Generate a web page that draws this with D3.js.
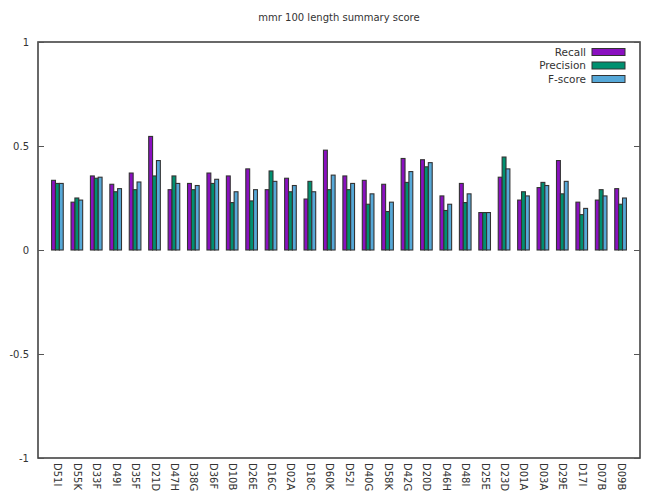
<!DOCTYPE html>
<html>
<head>
<meta charset="utf-8">
<script src="https://cdn.jsdelivr.net/npm/d3@7"></script>
<style>
  body { margin: 0; background: #fff; }
  text { font-family: "DejaVu Sans", sans-serif; fill: #333; }
</style>
</head>
<body>
<div id="chart"></div>
<script>
// chart data
var categories = ["D51I", "D55K", "D33F", "D49I", "D35F", "D21D", "D47H", "D38G", "D36F", "D10B",
    "D26E", "D16C", "D02A", "D18C", "D60K", "D52I", "D40G", "D58K", "D42G", "D20D",
    "D46H", "D48I", "D25E", "D23D", "D01A", "D03A", "D29E", "D17I", "D07B", "D09B"];
var recall = [0.335, 0.23, 0.356, 0.316, 0.37, 0.546, 0.29, 0.32, 0.37, 0.356,
    0.39, 0.29, 0.345, 0.245, 0.48, 0.356, 0.335, 0.316, 0.44, 0.434,
    0.26, 0.32, 0.18, 0.35, 0.24, 0.30, 0.43, 0.23, 0.24, 0.295];
var precision = [0.32, 0.25, 0.345, 0.28, 0.29, 0.356, 0.356, 0.29, 0.32, 0.228,
    0.236, 0.38, 0.28, 0.33, 0.29, 0.29, 0.22, 0.185, 0.325, 0.40,
    0.19, 0.228, 0.18, 0.447, 0.28, 0.325, 0.27, 0.17, 0.29, 0.22];
var fscore = [0.32, 0.24, 0.35, 0.295, 0.327, 0.43, 0.32, 0.31, 0.34, 0.28,
    0.29, 0.33, 0.31, 0.28, 0.36, 0.32, 0.27, 0.23, 0.377, 0.42,
    0.22, 0.27, 0.18, 0.39, 0.26, 0.31, 0.33, 0.20, 0.26, 0.25];
var seriesNames = ["Recall", "Precision", "F-score"];
var seriesColors = ["#8a10c0", "#009070", "#56a8d8"];
var yTicks = [-1, -0.5, 0, 0.5, 1];

var width = 657, height = 502;
var margin = { top: 42, right: 17, bottom: 44, left: 38 };
var innerW = width - margin.left - margin.right;
var innerH = height - margin.top - margin.bottom;

var svg = d3.select("#chart").append("svg")
    .attr("width", width)
    .attr("height", height);

var g = svg.append("g")
    .attr("transform", "translate(" + margin.left + "," + margin.top + ")");

// groups at 0..n-1, one empty slot at each side
var x = d3.scaleLinear()
    .domain([-1, categories.length])
    .range([0, innerW]);
var y = d3.scaleLinear()
    .domain([-1, 1])
    .range([innerH, 0]);

var step = x(1) - x(0);
var barW = step / 5;

var series = [recall, precision, fscore];

// bars
series.forEach(function(vals, s) {
    g.append("g")
        .selectAll("rect")
        .data(vals)
        .enter().append("rect")
        .attr("x", function(d, i) { return x(i) + (s - 1.5) * barW; })
        .attr("width", barW)
        .attr("y", function(d) { return y(Math.max(0, d)); })
        .attr("height", function(d) { return Math.abs(y(d) - y(0)); })
        .attr("fill", seriesColors[s])
        .attr("stroke", "#333")
        .attr("stroke-width", 1.1);
});

// frame
g.append("rect")
    .attr("width", innerW)
    .attr("height", innerH)
    .attr("fill", "none")
    .attr("stroke", "#444")
    .attr("stroke-width", 1.6);

// y axis ticks, mirrored on right
var yAxisL = d3.axisLeft(y).tickValues(yTicks).tickSize(-6).tickPadding(9)
    .tickFormat(function(d) { return String(d); });
var yl = g.append("g").call(yAxisL);
yl.select(".domain").remove();
yl.selectAll("line").attr("stroke", "#555");
yl.selectAll("text").style("font-size", "10px").attr("fill", "#333");

var yAxisR = d3.axisRight(y).tickValues(yTicks).tickSize(-6).tickFormat("");
var yr = g.append("g").attr("transform", "translate(" + innerW + ",0)").call(yAxisR);
yr.select(".domain").remove();
yr.selectAll("line").attr("stroke", "#555");

// x axis labels
var xAxis = d3.axisBottom(x)
    .tickValues(d3.range(categories.length))
    .tickSize(0)
    .tickFormat(function(i) { return categories[i]; });
var xa = g.append("g").attr("transform", "translate(0," + innerH + ")").call(xAxis);
xa.select(".domain").remove();
xa.selectAll("text")
    .style("font-size", "10px")
    .attr("fill", "#333")
    .attr("text-anchor", "start")
    .attr("transform", "rotate(90)")
    .attr("x", 5)
    .attr("y", 0)
    .attr("dy", "0.35em");

// title
svg.append("text")
    .attr("x", margin.left + innerW / 2)
    .attr("y", 21)
    .attr("text-anchor", "middle")
    .style("font-size", "10px")
    .text("mmr 100 length summary score");

// legend
var legend = g.append("g").attr("transform", "translate(" + (innerW - 48) + ",10)");
seriesNames.forEach(function(name, s) {
    var row = legend.append("g").attr("transform", "translate(0," + (s * 13.5) + ")");
    row.append("text")
        .attr("x", -6)
        .attr("y", 0)
        .attr("dy", "0.35em")
        .attr("text-anchor", "end")
        .style("font-size", "10.5px")
        .text(name);
    row.append("rect")
        .attr("x", 0)
        .attr("y", -3.5)
        .attr("width", 33)
        .attr("height", 7)
        .attr("fill", seriesColors[s])
        .attr("stroke", "#333")
        .attr("stroke-width", 1);
});
</script>
</body>
</html>
